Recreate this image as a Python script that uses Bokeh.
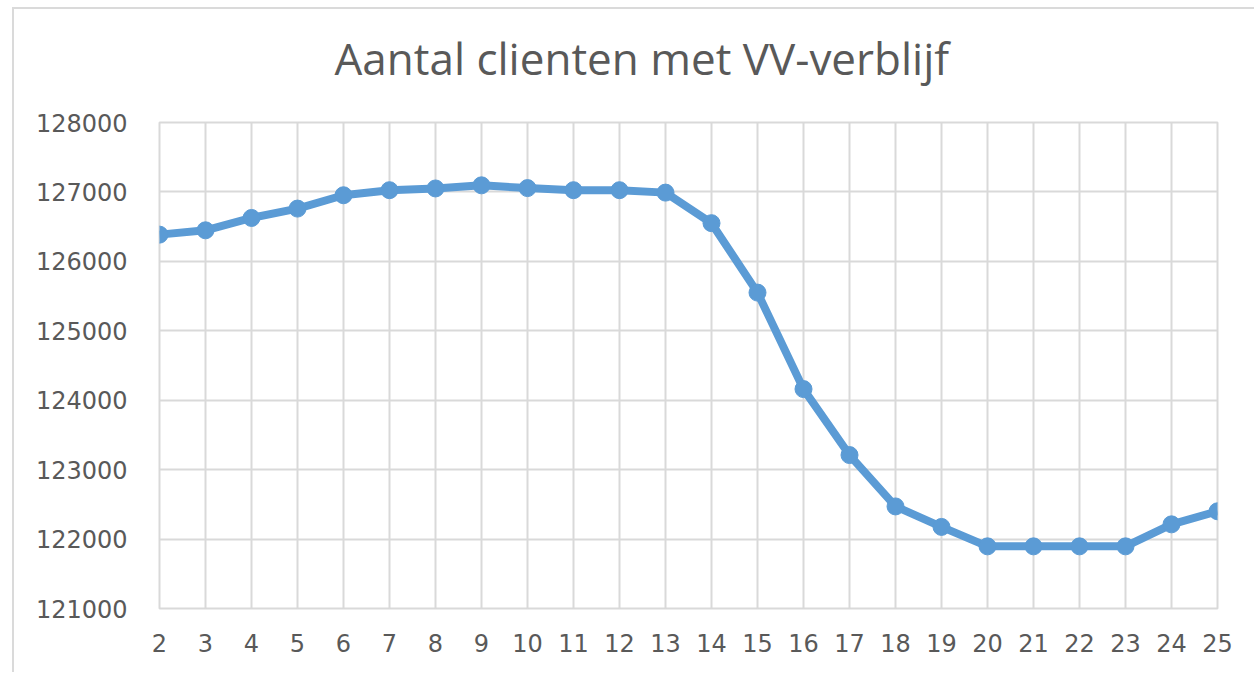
from bokeh.plotting import figure
from bokeh.models import Range1d, FixedTicker, NumeralTickFormatter, Title
from bokeh.embed import file_html
from bokeh.resources import INLINE

# Data
weeks = [2, 3, 4, 5, 6, 7, 8, 9, 10, 11, 12, 13, 14, 15, 16, 17, 18, 19, 20, 21, 22, 23, 24, 25]
clients = [126385, 126447, 126625, 126760, 126952, 127025, 127050, 127095, 127055, 127025,
           127025, 126990, 126550, 125550, 124160, 123210, 122470, 122175, 121895, 121895,
           121895, 121895, 122212, 122400]
y_ticks = [121000, 122000, 123000, 124000, 125000, 126000, 127000, 128000]
title_text = "Aantal clienten met VV-verblijf"

TEXT = "#595959"
GRID = "#D9D9D9"
BLUE = "#5B9BD5"

p = figure(width=1242, height=665, output_backend="svg", toolbar_location=None,
           x_range=Range1d(weeks[0], weeks[-1]), y_range=Range1d(y_ticks[0], y_ticks[-1]),
           min_border_left=145, min_border_right=39, min_border_top=113, min_border_bottom=66)
p.styles = {"margin-left": "12px", "margin-top": "7px",
            "border-left": "2px solid #DADADA", "border-top": "2px solid #DADADA"}

p.title.text = title_text
p.title.text_font = "Open Sans"
p.title.text_font_size = "44px"
p.title.text_font_style = "normal"
p.title.text_color = TEXT
p.title.align = "left"
p.title.offset = 175
p.title.standoff = 0
# invisible spacer between the title and the plot area
p.add_layout(Title(text=" ", text_font_size="1px", standoff=32), "above")

p.line(weeks, clients, line_color=BLUE, line_width=8)
p.scatter(weeks, clients, size=17, fill_color=BLUE, line_color=BLUE)

p.xaxis.ticker = FixedTicker(ticks=weeks)
p.yaxis.ticker = FixedTicker(ticks=y_ticks)
p.yaxis.formatter = NumeralTickFormatter(format="0")
for ax in (p.xaxis, p.yaxis):
    ax.axis_line_color = None
    ax.major_tick_line_color = None
    ax.minor_tick_line_color = None
    ax.major_label_text_font = "DejaVu Sans"
    ax.major_label_text_font_size = "24px"
    ax.major_label_text_color = TEXT
p.yaxis.major_label_standoff = 26
p.xaxis.major_label_standoff = 19

p.xgrid.grid_line_color = GRID
p.ygrid.grid_line_color = GRID
p.xgrid.grid_line_width = 2
p.ygrid.grid_line_width = 2
p.outline_line_color = GRID
p.outline_line_width = 2
p.background_fill_color = "white"
p.border_fill_color = "white"

open("out.html", "w").write(file_html(p, INLINE))
